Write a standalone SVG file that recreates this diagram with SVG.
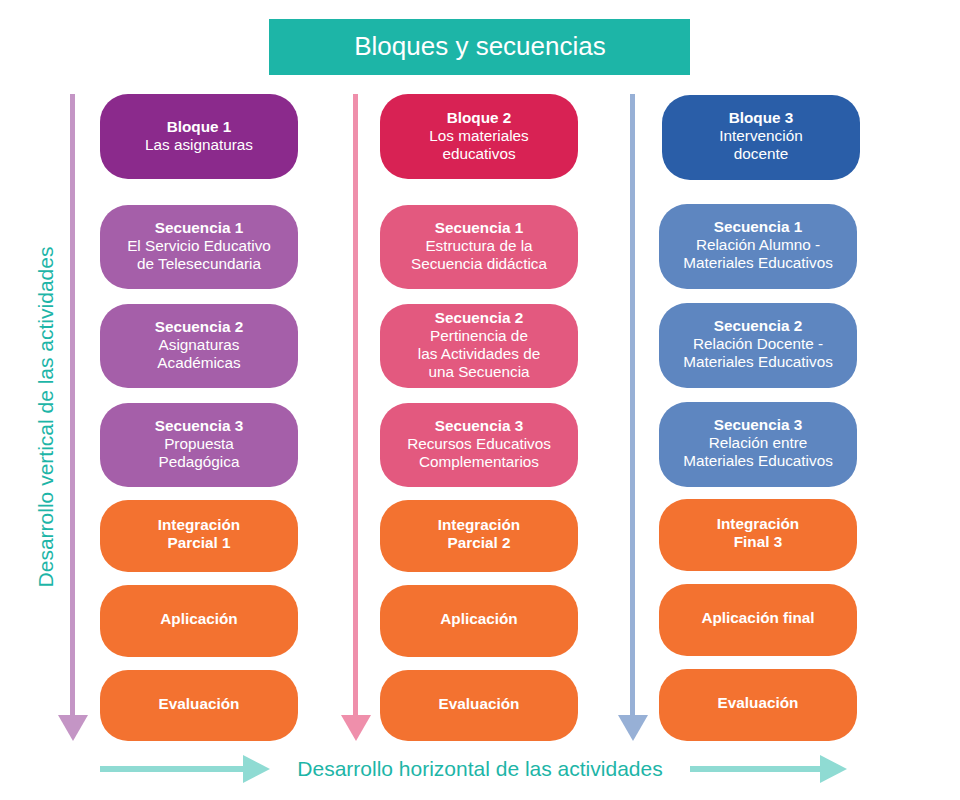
<svg xmlns="http://www.w3.org/2000/svg" width="960" height="800" viewBox="0 0 960 800">
<style>
text{font-family:"Liberation Sans",Arial,sans-serif;fill:#fff;text-anchor:middle}
.n{font-size:15.3px}
.b{font-weight:bold}
.t{font-size:26px}
.lbl{font-size:21px;fill:#1db5a7}
.b1{fill:#8b2a8c}.s1{fill:#a55fa9}
.b2{fill:#d82254}.s2{fill:#e3597f}
.b3{fill:#2a5ea8}.s3{fill:#5e86c0}
.o{fill:#f37230}
</style>
<rect width="960" height="800" fill="#fff"/>
<g id="title"><rect x="269" y="19" width="421" height="56" fill="#1db5a7"/><text class="t" x="480" y="55">Bloques y secuencias</text></g>
<g id="connectors">
<rect x="70" y="94" width="5" height="622" fill="#c495c5"/><polygon points="58,715 88,715 73,741" fill="#c495c5"/>
<rect x="353" y="94" width="5" height="622" fill="#ef8fab"/><polygon points="341,715 371,715 356,741" fill="#ef8fab"/>
<rect x="630" y="94" width="5" height="622" fill="#97b0d6"/><polygon points="618,715 648,715 633,741" fill="#97b0d6"/>
<rect x="100" y="766" width="145" height="6" fill="#8fdbd3"/><polygon points="243,755 270,769 243,783" fill="#8fdbd3"/>
<rect x="690" y="766" width="132" height="6" fill="#8fdbd3"/><polygon points="820,755 847,769 820,783" fill="#8fdbd3"/>
</g>
<text class="lbl" x="480" y="776">Desarrollo horizontal de las actividades</text>
<text class="lbl" transform="translate(53,417) rotate(-90)">Desarrollo vertical de las actividades</text>
<g class="n">
<g id="bloque1"><rect class="b1" x="100" y="94" width="198" height="85" rx="28"/><text x="199" y="132" class="b">Bloque 1</text><text x="199" y="150">Las asignaturas</text></g>
<g id="c1s1"><rect class="s1" x="100" y="205" width="198" height="84" rx="28"/><text x="199" y="233" class="b">Secuencia 1</text><text x="199" y="251">El Servicio Educativo</text><text x="199" y="269">de Telesecundaria</text></g>
<g id="c1s2"><rect class="s1" x="100" y="304" width="198" height="84" rx="28"/><text x="199" y="332" class="b">Secuencia 2</text><text x="199" y="350">Asignaturas</text><text x="199" y="368">Académicas</text></g>
<g id="c1s3"><rect class="s1" x="100" y="403" width="198" height="84" rx="28"/><text x="199" y="431" class="b">Secuencia 3</text><text x="199" y="449">Propuesta</text><text x="199" y="467">Pedagógica</text></g>
<g id="c1int"><rect class="o" x="100" y="500" width="198" height="72" rx="28"/><text x="199" y="530" class="b">Integración</text><text x="199" y="548" class="b">Parcial 1</text></g>
<g id="c1apl"><rect class="o" x="100" y="585" width="198" height="72" rx="28"/><text x="199" y="624" class="b">Aplicación</text></g>
<g id="c1eva"><rect class="o" x="100" y="670" width="198" height="71" rx="28"/><text x="199" y="709" class="b">Evaluación</text></g>

<g id="bloque2"><rect class="b2" x="380" y="94" width="198" height="85" rx="28"/><text x="479" y="123" class="b">Bloque 2</text><text x="479" y="141">Los materiales</text><text x="479" y="159">educativos</text></g>
<g id="c2s1"><rect class="s2" x="380" y="205" width="198" height="84" rx="28"/><text x="479" y="233" class="b">Secuencia 1</text><text x="479" y="251">Estructura de la</text><text x="479" y="269">Secuencia didáctica</text></g>
<g id="c2s2"><rect class="s2" x="380" y="304" width="198" height="84" rx="28"/><text x="479" y="323" class="b">Secuencia 2</text><text x="479" y="341">Pertinencia de</text><text x="479" y="359">las Actividades de</text><text x="479" y="377">una Secuencia</text></g>
<g id="c2s3"><rect class="s2" x="380" y="403" width="198" height="84" rx="28"/><text x="479" y="431" class="b">Secuencia 3</text><text x="479" y="449">Recursos Educativos</text><text x="479" y="467">Complementarios</text></g>
<g id="c2int"><rect class="o" x="380" y="500" width="198" height="72" rx="28"/><text x="479" y="530" class="b">Integración</text><text x="479" y="548" class="b">Parcial 2</text></g>
<g id="c2apl"><rect class="o" x="380" y="585" width="198" height="72" rx="28"/><text x="479" y="624" class="b">Aplicación</text></g>
<g id="c2eva"><rect class="o" x="380" y="670" width="198" height="71" rx="28"/><text x="479" y="709" class="b">Evaluación</text></g>

<g id="bloque3"><rect class="b3" x="662" y="95" width="198" height="85" rx="28"/><text x="761" y="123" class="b">Bloque 3</text><text x="761" y="141">Intervención</text><text x="761" y="159">docente</text></g>
<g id="c3s1"><rect class="s3" x="659" y="204" width="198" height="85" rx="28"/><text x="758" y="232" class="b">Secuencia 1</text><text x="758" y="250">Relación Alumno -</text><text x="758" y="268">Materiales Educativos</text></g>
<g id="c3s2"><rect class="s3" x="659" y="303" width="198" height="85" rx="28"/><text x="758" y="331" class="b">Secuencia 2</text><text x="758" y="349">Relación Docente -</text><text x="758" y="367">Materiales Educativos</text></g>
<g id="c3s3"><rect class="s3" x="659" y="402" width="198" height="85" rx="28"/><text x="758" y="430" class="b">Secuencia 3</text><text x="758" y="448">Relación entre</text><text x="758" y="466">Materiales Educativos</text></g>
<g id="c3int"><rect class="o" x="659" y="499" width="198" height="72" rx="28"/><text x="758" y="529" class="b">Integración</text><text x="758" y="547" class="b">Final 3</text></g>
<g id="c3apl"><rect class="o" x="659" y="584" width="198" height="72" rx="28"/><text x="758" y="623" class="b">Aplicación final</text></g>
<g id="c3eva"><rect class="o" x="659" y="669" width="198" height="72" rx="28"/><text x="758" y="708" class="b">Evaluación</text></g>
</g>
</svg>
